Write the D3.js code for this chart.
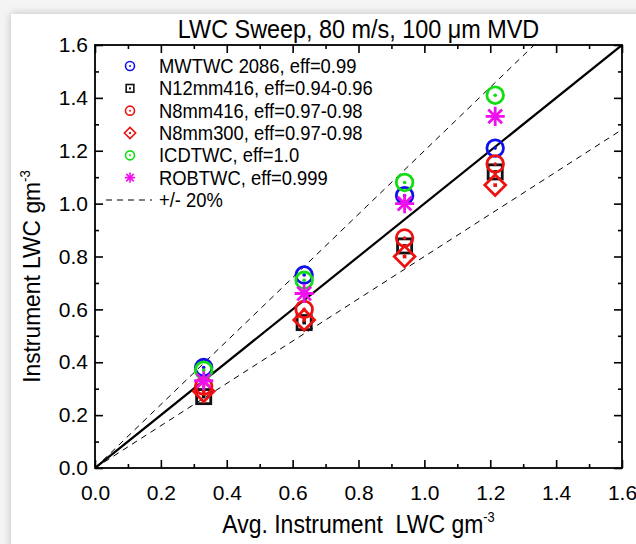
<!DOCTYPE html>
<html><head><meta charset="utf-8">
<script src="https://cdn.jsdelivr.net/npm/d3@7"></script>
<style>
html,body{margin:0;padding:0;background:#f4f4f4;}
svg{display:block;font-family:"Liberation Sans",Arial,sans-serif;}
</style></head>
<body>
<svg id="chart" width="636" height="544"></svg>
<script>
// ---- data ----
const xValues = [0.33, 0.635, 0.94, 1.215];
const mwtwc    = [0.38, 0.73, 1.03, 1.21];
const n12mm416 = [0.27, 0.55, 0.84, 1.12];
const n8mm416  = [0.31, 0.60, 0.87, 1.15];
const n8mm300  = [0.29, 0.56, 0.80, 1.07];
const icdtwc   = [0.37, 0.71, 1.08, 1.41];
const robtwc   = [0.33, 0.66, 1.00, 1.33];
const seriesNames = ["MWTWC 2086, eff=0.99","N12mm416, eff=0.94-0.96","N8mm416, eff=0.97-0.98","N8mm300, eff=0.97-0.98","ICDTWC, eff=1.0","ROBTWC, eff=0.999"];
const seriesColors = ["#1010ee","#111111","#ee1111","#ee1111","#11dd11","#ee11ee"];
const seriesShapes = ["circle","square","circle","diamond","circle","star"];
const seriesValues = [mwtwc, n12mm416, n8mm416, n8mm300, icdtwc, robtwc];
const majorTicks = [0,0.2,0.4,0.6,0.8,1.0,1.2,1.4,1.6];
const minorTicks = [0.1,0.3,0.5,0.7,0.9,1.1,1.3,1.5];
const bandLabel = "+/- 20%";
const bandFactors = [1.2, 0.8];

const svg = d3.select("#chart");
const defs = svg.append("defs");
const f = defs.append("filter").attr("id","sh").attr("x","-5%").attr("y","-5%").attr("width","110%").attr("height","110%");
f.append("feDropShadow").attr("dx",0).attr("dy",0).attr("stdDeviation",4).attr("flood-color","#999").attr("flood-opacity",0.6);
svg.append("rect").attr("width",636).attr("height",544).attr("fill","#f4f4f4");
svg.append("rect").attr("x",11).attr("y",14).attr("width",640).attr("height",560).attr("fill","#fff").attr("filter","url(#sh)");

const L=95,R=622,T=45,B=468;
const x = d3.scaleLinear().domain([0,1.6]).range([L,R]);
const y = d3.scaleLinear().domain([0,1.6]).range([B,T]);

const g = svg.append("g");
const fmt = d3.format(".1f");
function styleAxis(sel){
  sel.select(".domain").remove();
  sel.selectAll(".tick line").attr("stroke","#000").attr("stroke-width",1.6);
  sel.selectAll(".tick text").attr("font-size",21).attr("fill","#000").attr("font-family","Liberation Sans, Arial, sans-serif");
}
// bottom
g.append("g").attr("transform",`translate(0,${B})`).call(d3.axisBottom(x).tickValues(majorTicks).tickFormat(fmt).tickSizeInner(-8).tickSizeOuter(0).tickPadding(17)).call(styleAxis);
g.append("g").attr("transform",`translate(0,${B})`).call(d3.axisBottom(x).tickValues(minorTicks).tickFormat("").tickSizeInner(-4).tickSizeOuter(0)).call(styleAxis);
// top
g.append("g").attr("transform",`translate(0,${T})`).call(d3.axisTop(x).tickValues(majorTicks).tickFormat("").tickSizeInner(-8).tickSizeOuter(0)).call(styleAxis);
g.append("g").attr("transform",`translate(0,${T})`).call(d3.axisTop(x).tickValues(minorTicks).tickFormat("").tickSizeInner(-4).tickSizeOuter(0)).call(styleAxis);
// left
g.append("g").attr("transform",`translate(${L},0)`).call(d3.axisLeft(y).tickValues(majorTicks).tickFormat(fmt).tickSizeInner(-8).tickSizeOuter(0).tickPadding(7)).call(styleAxis);
g.append("g").attr("transform",`translate(${L},0)`).call(d3.axisLeft(y).tickValues(minorTicks).tickFormat("").tickSizeInner(-4).tickSizeOuter(0)).call(styleAxis);
// right
g.append("g").attr("transform",`translate(${R},0)`).call(d3.axisRight(y).tickValues(majorTicks).tickFormat("").tickSizeInner(-8).tickSizeOuter(0)).call(styleAxis);
g.append("g").attr("transform",`translate(${R},0)`).call(d3.axisRight(y).tickValues(minorTicks).tickFormat("").tickSizeInner(-4).tickSizeOuter(0)).call(styleAxis);

g.append("rect").attr("x",L).attr("y",T).attr("width",R-L).attr("height",B-T).attr("fill","none").attr("stroke","#000").attr("stroke-width",1.8);

// lines
const clip = defs.append("clipPath").attr("id","clip").append("rect").attr("x",L).attr("y",T).attr("width",R-L).attr("height",B-T);
const lg = svg.append("g").attr("clip-path","url(#clip)");
const line = d3.line().x(d=>x(d[0])).y(d=>y(d[1]));
lg.append("path").attr("d",line([[0,0],[1.6,1.6]])).attr("stroke","#000").attr("stroke-width",2.2).attr("fill","none");
bandFactors.forEach(k=>{
  const xe = Math.min(1.6, 1.6/k);
  lg.append("path").attr("d",line([[0,0],[xe,xe*k]])).attr("stroke","#000").attr("stroke-width",1).attr("stroke-dasharray","6,5").attr("fill","none");
});

// markers
function drawMarker(sel, shape, color, s, sw){
  if(shape==="circle"){
    sel.append("circle").attr("r",s).attr("fill","none").attr("stroke",color).attr("stroke-width",sw);
    sel.append("circle").attr("r",s*0.22).attr("fill",color);
  } else if(shape==="square"){
    sel.append("rect").attr("x",-s*0.85).attr("y",-s*0.85).attr("width",s*1.7).attr("height",s*1.7).attr("fill","none").attr("stroke",color).attr("stroke-width",sw);
    sel.append("rect").attr("x",-s*0.22).attr("y",-s*0.22).attr("width",s*0.44).attr("height",s*0.44).attr("fill",color);
  } else if(shape==="diamond"){
    const d=s*1.25;
    sel.append("path").attr("d",`M0,${-d}L${d},0L0,${d}L${-d},0Z`).attr("fill","none").attr("stroke",color).attr("stroke-width",sw);
    sel.append("rect").attr("x",-s*0.22).attr("y",-s*0.22).attr("width",s*0.44).attr("height",s*0.44).attr("fill",color);
  } else if(shape==="star"){
    const d=s*1.15, e=d*0.72;
    sel.append("path").attr("d",`M0,${-d}V${d}M${-d},0H${d}M${-e},${-e}L${e},${e}M${-e},${e}L${e},${-e}`).attr("stroke",color).attr("stroke-width",sw).attr("fill","none");
  }
}
const pg = svg.append("g");
seriesValues.forEach((vals,i)=>{
  vals.forEach((v,j)=>{
    const m = pg.append("g").attr("transform",`translate(${x(xValues[j])},${y(v)})`);
    drawMarker(m, seriesShapes[i], seriesColors[i], 8.3, 2.8);
  });
});

// legend
const leg = svg.append("g");
const rowY = d3.scaleLinear().domain([0,6]).range([66,200]);
seriesNames.forEach((n,i)=>{
  const m = leg.append("g").attr("transform",`translate(130,${rowY(i)})`);
  drawMarker(m, seriesShapes[i], seriesColors[i], 4.5, 1.6);
  leg.append("text").attr("transform",`translate(159,${rowY(i)}) scale(0.92,1)`).attr("dy","0.35em").attr("font-size",20).text(n);
});
leg.append("line").attr("x1",106).attr("x2",152).attr("y1",rowY(6)).attr("y2",rowY(6)).attr("stroke","#000").attr("stroke-width",1).attr("stroke-dasharray","6,5");
leg.append("text").attr("transform",`translate(159,${rowY(6)}) scale(0.92,1)`).attr("dy","0.35em").attr("font-size",20).text(bandLabel);

// title & labels
svg.append("text").attr("transform",`translate(${(L+R)/2},38) scale(0.9,1)`).attr("text-anchor","middle").attr("font-size",26).text("LWC Sweep, 80 m/s, 100 μm MVD");
const xl = svg.append("text").attr("transform",`translate(${(L+R)/2},533) scale(0.92,1)`).attr("text-anchor","middle").attr("font-size",25);
xl.append("tspan").text("Avg. Instrument\u00a0\u00a0LWC gm");
xl.append("tspan").attr("dy",-11).attr("font-size",14).text("-3");
const yl = svg.append("text").attr("transform",`translate(40,${(T+B)/2+20}) rotate(-90) scale(0.95,1)`).attr("text-anchor","middle").attr("font-size",24);
yl.append("tspan").text("Instrument LWC gm");
yl.append("tspan").attr("dy",-10).attr("font-size",14).text("-3");
</script>
</body></html>
